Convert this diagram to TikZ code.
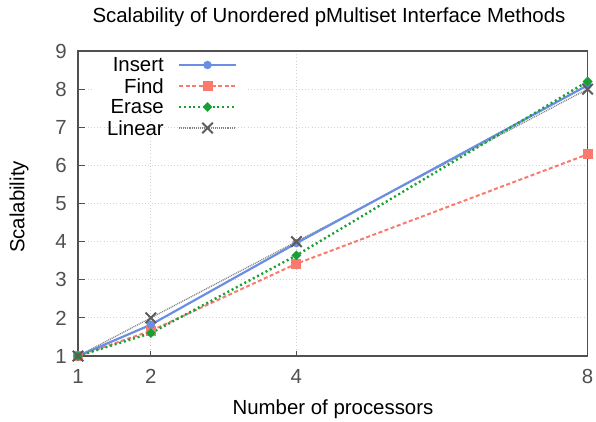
\documentclass[tikz,border=0pt]{standalone}
\usepackage{fontspec}
\setmainfont{Liberation Sans}
\usetikzlibrary{shapes.geometric,shapes.misc}

\definecolor{insertblue}{RGB}{106,142,228}
\definecolor{findred}{RGB}{250,122,110}
\definecolor{erasegreen}{RGB}{24,160,52}
\definecolor{lineargray}{RGB}{92,92,92}
\definecolor{gridtan}{RGB}{214,211,194}
\definecolor{framegray}{RGB}{80,80,80}

\tikzstyle{frame}=[draw=framegray,line width=1.1pt]
\tikzstyle{gridline}=[draw=gridtan,line width=0.9pt,dash pattern=on 1pt off 2.2pt]
\tikzstyle{tickmark}=[draw=framegray,line width=1pt]
\tikzstyle{ticklabel}=[text=framegray,inner sep=0pt,font=\fontsize{20.4}{24}\selectfont]
\tikzstyle{label}=[inner sep=0pt,font=\fontsize{20.4}{24}\selectfont]
\tikzstyle{insertline}=[draw=insertblue,line width=2.2pt]
\tikzstyle{findline}=[draw=findred,line width=2pt,dash pattern=on 4pt off 2.5pt]
\tikzstyle{eraseline}=[draw=erasegreen,line width=2.4pt,dash pattern=on 2pt off 2.8pt]
\tikzstyle{linearline}=[draw=lineargray!75,line width=1.3pt,dash pattern=on 1pt off 0.9pt]
\tikzstyle{insertmark}=[circle,fill=insertblue,minimum size=8.5pt,inner sep=0pt]
\tikzstyle{findmark}=[rectangle,fill=findred,minimum size=10pt,inner sep=0pt]
\tikzstyle{erasemark}=[diamond,fill=erasegreen,minimum size=10pt,inner sep=0pt]
\tikzstyle{linearmark}=[cross out,draw=lineargray,line width=2pt,minimum size=8.5pt,inner sep=0pt]

\begin{document}
\begin{tikzpicture}[x=1pt,y=1pt]

\useasboundingbox (0,0) rectangle (596,421);

   \def\xo{5.2pt};
   \def\yo{26.875pt}

%plot area, one unit per processor and per unit of scalability
\begin{scope}[shift={(\xo,\yo)},x=72.8pt,y=38.125pt]

%grid
    \foreach \s in {2,...,8}
        \path[gridline] (1,\s) -- (8,\s);
    \foreach \p in {2,4}
        \path[gridline] (\p,1) -- (\p,9);

%legend background
    \fill[white] (1.2,7.55) rectangle (3.3,9.8);

%ticks and labels
    \foreach \s in {1,...,9}
        \node[ticklabel,anchor=east,xshift=-11pt] (ylab\s) at (1,\s) {\s};
    \foreach \s in {2,...,8}
        \path[tickmark] (1,\s) -- ++(7pt,0);
    \foreach \p in {1,2,4,8}
        \node[ticklabel,anchor=north,yshift=-13pt] (xlab\p) at (\p,1) {\p};
    \foreach \p in {2,4}
        \path[tickmark] (\p,1) -- ++(0,5pt);

%frame
    \path[frame] (1,1) rectangle (8,9);

%data
    \foreach \p/\s/\name in {1/1/ins1, 2/1.82/ins2, 4/3.96/ins4, 8/8.1/ins8,
                             1/1/fnd1, 2/1.66/fnd2, 4/3.42/fnd4, 8/6.29/fnd8,
                             1/1/ers1, 2/1.6/ers2, 4/3.64/ers4, 8/8.2/ers8,
                             1/1/lin1, 2/2/lin2, 4/4/lin4, 8/8/lin8}
        \coordinate (\name) at (\p,\s);

    \path[linearline] (lin1) -- (lin2) -- (lin4) -- (lin8);
    \path[findline] (fnd1) -- (fnd2) -- (fnd4) -- (fnd8);
    \path[insertline] (ins1) -- (ins2) -- (ins4) -- (ins8);
    \path[eraseline] (ers1) -- (ers2) -- (ers4) -- (ers8);

    \foreach \p in {1,2,4,8}{
        \node[findmark] (fnd\p m) at (fnd\p) {};
        \node[insertmark] (ins\p m) at (ins\p) {};
        \node[erasemark] (ers\p m) at (ers\p) {};
        \node[linearmark] (lin\p m) at (lin\p) {};
    }
\end{scope}

% Legend
  \node[label,anchor=east] (legins) at (164,356) {Insert};
  \node[label,anchor=east] (legfnd) at (164,335) {Find};
  \node[label,anchor=east] (legers) at (164,314) {Erase};
  \node[label,anchor=east] (leglin) at (164,293) {Linear};

  \foreach \name/\ypos in {ins/356, fnd/335, ers/314, lin/293}{
      \coordinate (\name A) at (179,\ypos);
      \coordinate (\name B) at (236,\ypos);
      \coordinate (\name C) at (207.5,\ypos);
  }
  \path[insertline] (insA) -- (insB);
  \node[insertmark] (insleg) at (insC) {};
  \path[findline] (fndA) -- (fndB);
  \node[findmark] (fndleg) at (fndC) {};
  \path[eraseline] (ersA) -- (ersB);
  \node[erasemark] (ersleg) at (ersC) {};
  \path[linearline] (linA) -- (linB);
  \node[linearmark] (linleg) at (linC) {};

% Titles
\node[label] (title) at (329,404) {Scalability of Unordered pMultiset Interface Methods};
\node[label,rotate=90] (ytitle) at (19,214) {Scalability};
\node[label] (xtitle) at (333,12) {Number of processors};

   \end{tikzpicture}
\end{document}
